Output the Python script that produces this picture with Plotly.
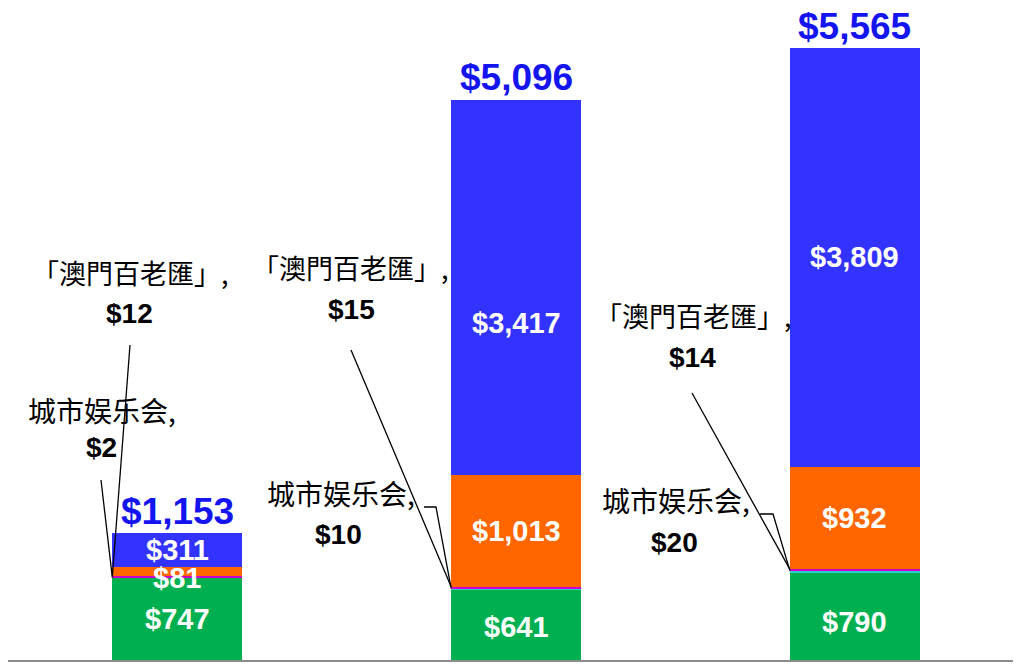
import plotly.graph_objects as go

# ---- data ----
categories = [0, 1, 2]
green_vals = [747, 641, 790]
teal_vals = [2, 10, 20]        # 城市娱乐会
magenta_vals = [12, 15, 14]    # 「澳門百老匯」
orange_vals = [81, 1013, 932]
blue_vals = [311, 3417, 3809]
totals = [1153, 5096, 5565]

# ---- layout constants ----
OFF = 8                      # page body margin
W, H = 1013, 656
ML, MR, MT, MB = 0, 0, 0, 4
XR = (-0.5, 2.49)
YR = (0, 5929)
BW = 0.384
plot_w = W - ML - MR
plot_h = H - MT - MB


def px2x(px):
    return XR[0] + (px - OFF - ML) * (XR[1] - XR[0]) / plot_w


def px2y(py):
    return YR[0] + (OFF + H - MB - py) * (YR[1] - YR[0]) / plot_h


colors = {
    "green": "#00B050",
    "teal": "#33CCCC",
    "magenta": "#CC00CC",
    "orange": "#FF6600",
    "blue": "#3333FF",
}

fig = go.Figure()
for vals, c in [(green_vals, "green"), (teal_vals, "teal"), (magenta_vals, "magenta"),
                (orange_vals, "orange"), (blue_vals, "blue")]:
    fig.add_trace(go.Bar(x=categories, y=vals, width=BW, marker=dict(color=colors[c], line=dict(width=0)),
                         hoverinfo="skip", showlegend=False))

ann = []
NUM_FONT = "Arial, Liberation Sans, sans-serif"
CJK_FONT = "Noto Sans CJK SC, sans-serif"

# white segment labels
seg_shift = {"green": [0, -2, -5], "orange": [-6, 0, 0], "blue": [0, -36, 0]}
for i in range(3):
    base = 0
    cum = {}
    for name, vals in [("green", green_vals), ("teal", teal_vals), ("magenta", magenta_vals),
                       ("orange", orange_vals), ("blue", blue_vals)]:
        cum[name] = (base, base + vals[i])
        base += vals[i]
    for name, vals in [("green", green_vals), ("orange", orange_vals), ("blue", blue_vals)]:
        lo, hi = cum[name]
        ann.append(dict(x=categories[i], y=(lo + hi) / 2, xref="x", yref="y",
                        text="<b>${:,}</b>".format(vals[i]), showarrow=False,
                        yshift=seg_shift[name][i],
                        font=dict(family=NUM_FONT, size=29, color="white")))
    # total
    ann.append(dict(x=categories[i], y=totals[i], xref="x", yref="y", yanchor="middle",
                    text="<b>${:,}</b>".format(totals[i]), showarrow=False, yshift=22,
                    font=dict(family=NUM_FONT, size=37, color="#1414F0")))

# callout labels (page-pixel positions of label text centres)
mac_pos = [((130, 272), (129, 313)), ((350, 267), (351, 309)), ((693, 315), (692, 357))]
city_pos = [((102, 410), (101, 447)), ((341, 493), (338, 534)), ((676, 500), (674, 542))]
for i in range(3):
    (tx, ty), (vx, vy) = mac_pos[i]
    ann.append(dict(x=px2x(tx), y=px2y(ty), xref="x", yref="y", showarrow=False,
                    text="「澳門百老匯」,", font=dict(family=CJK_FONT, size=27, color="black")))
    ann.append(dict(x=px2x(vx), y=px2y(vy), xref="x", yref="y", showarrow=False,
                    text="<b>${}</b>".format(magenta_vals[i]),
                    font=dict(family=NUM_FONT, size=28, color="black")))
    (tx, ty), (vx, vy) = city_pos[i]
    ann.append(dict(x=px2x(tx), y=px2y(ty), xref="x", yref="y", showarrow=False,
                    text="城市娱乐会,", font=dict(family=CJK_FONT, size=28, color="black")))
    ann.append(dict(x=px2x(vx), y=px2y(vy), xref="x", yref="y", showarrow=False,
                    text="<b>${}</b>".format(teal_vals[i]),
                    font=dict(family=NUM_FONT, size=28, color="black")))

# leader lines
shapes = []
mac_start = [(130, 345), (351, 350), (692, 393)]
city_path = [[(101, 480)], [(424, 507), (436, 507)], [(760, 514), (773, 514)]]
for i in range(3):
    ex = categories[i] - BW / 2
    ey_mac = green_vals[i] + teal_vals[i] + magenta_vals[i]
    ey_city = green_vals[i] + teal_vals[i]
    sx, sy = mac_start[i]
    shapes.append(dict(type="line", xref="x", yref="y", x0=px2x(sx), y0=px2y(sy), x1=ex, y1=ey_mac,
                       line=dict(color="black", width=1.3)))
    pts = [(px2x(a), px2y(b)) for a, b in city_path[i]] + [(ex, ey_city)]
    path = "M {} {}".format(*pts[0]) + "".join(" L {} {}".format(*p) for p in pts[1:])
    shapes.append(dict(type="path", xref="x", yref="y", path=path,
                       line=dict(color="black", width=1.3)))

fig.update_layout(
    width=W, height=H, barmode="stack",
    margin=dict(l=ML, r=MR, t=MT, b=MB, pad=0),
    paper_bgcolor="white", plot_bgcolor="white",
    annotations=ann, shapes=shapes, showlegend=False,
    xaxis=dict(range=list(XR), showticklabels=False, ticks="", showgrid=False, zeroline=False,
               showline=True, linecolor="#8C8C8C", linewidth=2, fixedrange=True),
    yaxis=dict(range=list(YR), showticklabels=False, ticks="", showgrid=False, zeroline=False,
               showline=False, fixedrange=True),
)
fig.write_html("out.html", config={"displayModeBar": False})
